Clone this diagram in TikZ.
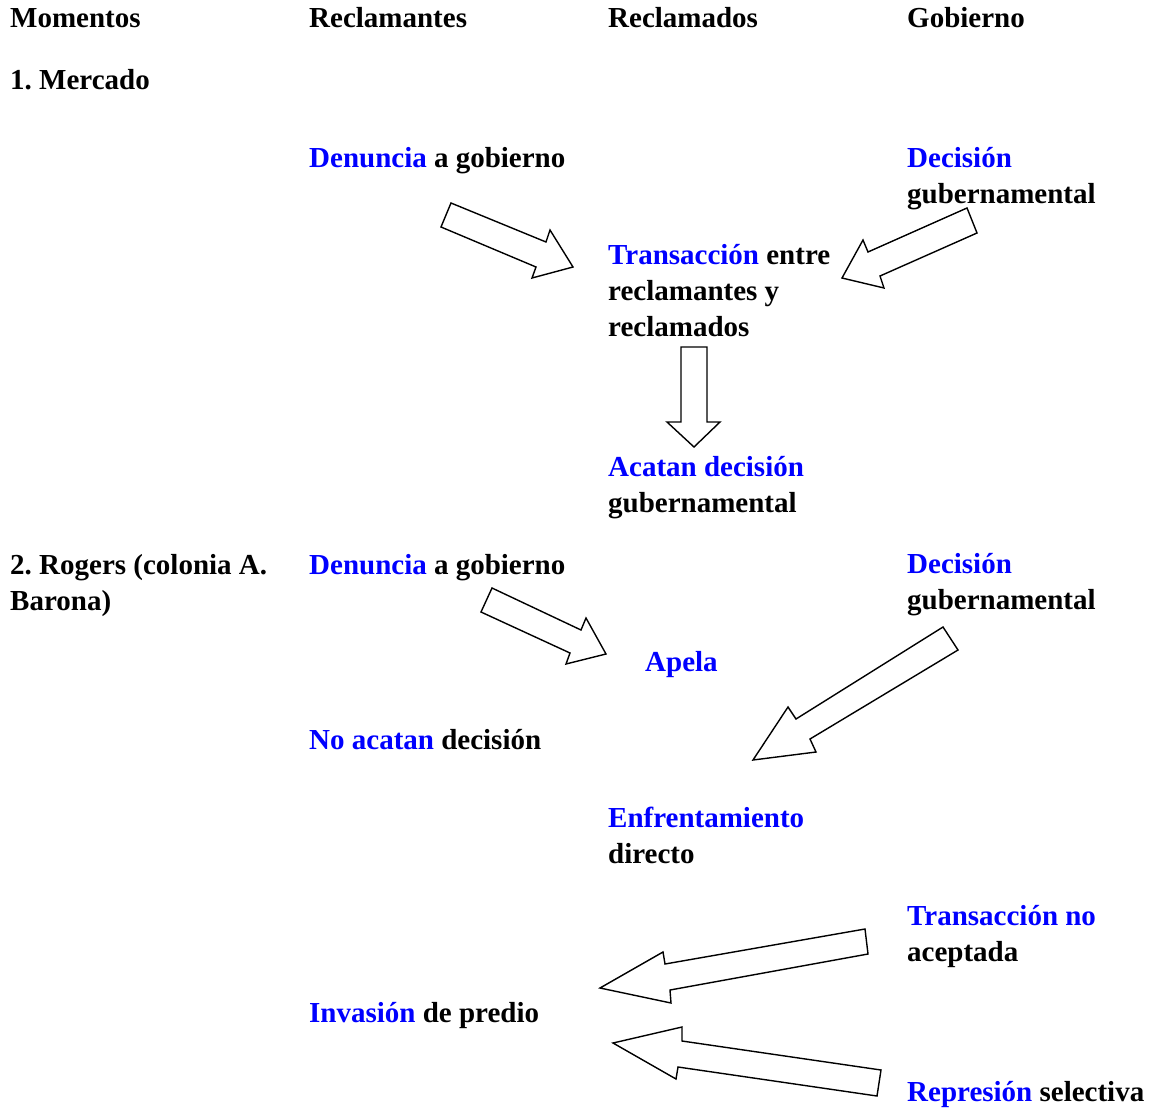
\documentclass[tikz,border=0pt]{standalone}
\usepackage{fontspec}
\setmainfont{Liberation Serif}
\definecolor{kwblue}{RGB}{0,0,255}
\newcommand\kw[1]{\textcolor{kwblue}{#1}}
\newcommand\lines[1]{\vtop{\halign{##\hfil\cr#1\crcr}}}
\frenchspacing
\begin{document}
\begin{tikzpicture}[x=1pt,y=-1pt,
  txt/.style={anchor=base west, inner sep=0pt, font=\fontsize{29}{36}\selectfont\bfseries},
  blockarrow/.style={draw=black, line width=1.4pt, fill=white, line join=miter}]
\useasboundingbox (0,0) rectangle (1154,1109);
% headers
\node[txt] (hMom) at (10,27) {Momentos};
\node[txt] (hRec) at (309,27) {Reclamantes};
\node[txt] (hRdo) at (608,27) {Reclamados};
\node[txt] (hGob) at (907,27) {Gobierno};
% moment 1
\node[txt] (m1) at (10,89) {1. Mercado};
\node[txt] (den1) at (309,167) {\kw{Denuncia} a gobierno};
\node[txt] (dec1) at (907,167) {\lines{\kw{Decisión}\cr gubernamental}};
\node[txt] (tra1) at (608,264) {\lines{\kw{Transacción} entre\cr reclamantes y\cr reclamados}};
\node[txt] (aca1) at (608,476) {\lines{\kw{Acatan decisión}\cr gubernamental}};
% moment 2
\node[txt] (m2) at (10,574) {\lines{2. Rogers (colonia A.\cr Barona)}};
\node[txt] (den2) at (309,574) {\kw{Denuncia} a gobierno};
\node[txt] (dec2) at (907,573) {\lines{\kw{Decisión}\cr gubernamental}};
\node[txt] (ape2) at (645,671) {\kw{Apela}};
\node[txt] (noa2) at (309,749) {\kw{No acatan} decisión};
\node[txt] (enf2) at (608,827) {\lines{\kw{Enfrentamiento}\cr directo}};
\node[txt] (tno2) at (907,925) {\lines{\kw{Transacción no}\cr aceptada}};
\node[txt] (inv2) at (309,1022) {\kw{Invasión} de predio};
\node[txt] (rep2) at (907,1101) {\kw{Represión} selectiva};
% block arrows
\draw[blockarrow] (451,203) -- (546,242) -- (550,230) -- (573,267) -- (532,278) -- (536,267) -- (441,227) -- cycle;
\draw[blockarrow] (967,208) -- (977,233) -- (880,276) -- (884,288) -- (842,278) -- (863,240) -- (868,252) -- cycle;
\draw[blockarrow] (681,347) -- (707,347) -- (707,422) -- (720,422) -- (694,447) -- (667,422) -- (681,422) -- cycle;
\draw[blockarrow] (492,588) -- (581,630) -- (586,618) -- (606,654) -- (566,664) -- (570,653) -- (481,612) -- cycle;
\draw[blockarrow] (943,627) -- (958,650) -- (810,739) -- (816,752) -- (753,760) -- (788,707) -- (796,719) -- cycle;
\draw[blockarrow] (865,929) -- (868,954) -- (670,990) -- (671,1003) -- (600,988) -- (663,952) -- (665,964) -- cycle;
\draw[blockarrow] (613,1043) -- (682,1027) -- (682,1041) -- (881,1070) -- (877,1096) -- (678,1067) -- (676,1079) -- cycle;
\end{tikzpicture}
\end{document}
